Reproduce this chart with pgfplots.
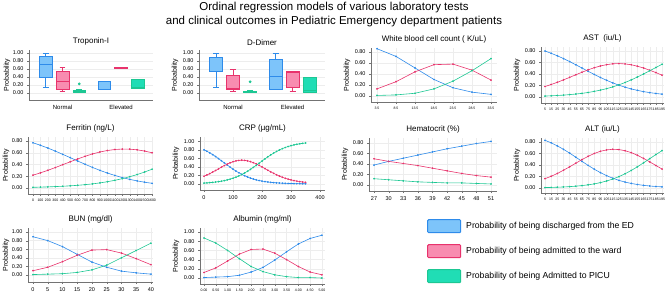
\documentclass[border=0pt]{standalone}
\usepackage{fontspec}
\setmainfont{Liberation Sans}
\usepackage{pgfplots}
\pgfplotsset{compat=1.18}
\usepackage{pgfplotstable}
\usepgfplotslibrary{statistics}
\definecolor{bl}{HTML}{2E8BEA}
\definecolor{blf}{HTML}{7DC4FA}
\definecolor{rd}{HTML}{E8336C}
\definecolor{rdf}{HTML}{F88CB0}
\definecolor{gr}{HTML}{1DC793}
\definecolor{grf}{HTML}{20DDB5}
\pgfplotsset{
 base/.style={scale only axis, anchor=south west, axis x line*=bottom, axis y line*=left,
   tick align=outside, major tick length=2pt, axis line style={black!55}, tick style={black!55},
   grid=major, major grid style={black!7},
   ylabel={Probability}, ylabel style={font=\fontsize{7}{8}\selectfont, at={(axis description cs:0,0.5)}, anchor=center, yshift=24pt},
   title style={font=\fontsize{8}{9}\selectfont, yshift=-5pt},
   tick label style={font=\fontsize{5.5}{6}\selectfont},
   /pgf/number format/assume math mode=true,
   /pgf/number format/1000 sep={},
   yticklabel style={/pgf/number format/.cd, fixed, fixed zerofill, precision=2},
   clip=false},
 leftcol/.style={ylabel style={yshift=-2pt}},
 pl/.style={mark=*, mark size=0.55pt, line width=0.6pt},
 tiny/.style={x tick label style={font=\fontsize{3.5}{4}\selectfont}},
 boxax/.style={base, xmin=0, xmax=7.4, ymin=-0.175, ymax=1.075, xtick={2,5.5},
   xticklabels={Normal,Elevated}, major x tick style={draw=none}, xmajorgrids=false,
   ytick={0,0.2,0.4,0.6,0.8,1}, boxplot/draw direction=y,
   x tick label style={font=\fontsize{6}{7}\selectfont}},
 bx/.style={line width=0.7pt, boxplot/box extend=0.76, boxplot/whisker extend=0.35},
}
\pgfplotstableread{
x b r g
3.5 .86 .13 .01
8.5 .72 .26 .02
13.5 .51 .44 .05
18.5 .30 .57 .13
23.5 .15 .58 .27
28.5 .07 .47 .46
33.5 .03 .29 .68
}\wbc
\pgfplotstableread{
x b r g
5 .800 .183 .017
15 .761 .218 .021
25 .717 .256 .027
35 .669 .298 .033
45 .616 .342 .042
55 .561 .387 .052
65 .505 .431 .064
75 .448 .473 .079
85 .392 .510 .098
95 .340 .540 .120
105 .291 .563 .146
115 .246 .578 .176
125 .206 .582 .212
135 .171 .576 .253
145 .141 .561 .298
155 .116 .536 .348
165 .094 .505 .401
175 .077 .466 .457
185 .062 .425 .513
195 .050 .380 .570
}\ast
\pgfplotstableread{
x b r g
5 .830 .162 .008
15 .786 .204 .010
25 .733 .253 .014
35 .673 .309 .018
45 .607 .369 .024
55 .536 .432 .032
65 .464 .494 .042
75 .394 .551 .055
85 .327 .601 .072
95 .267 .639 .094
105 .215 .663 .122
115 .170 .674 .156
125 .133 .669 .198
135 .103 .649 .248
145 .079 .616 .305
155 .061 .570 .369
165 .046 .515 .439
175 .035 .455 .510
185 .026 .392 .582
195 .020 .330 .650
}\alt
\pgfplotstableread{
x b r g
0 .770 .218 .012
100 .727 .258 .015
200 .680 .301 .019
300 .628 .348 .024
400 .573 .397 .030
500 .517 .446 .037
600 .460 .494 .046
700 .404 .539 .057
800 .350 .580 .070
900 .300 .613 .087
1000 .255 .638 .107
1100 .214 .655 .131
1200 .178 .663 .159
1300 .147 .661 .192
1400 .121 .650 .229
1500 .099 .629 .272
1600 .080 .600 .320
}\fer
\pgfplotstableread{
x b r g
0 .800 .180 .020
10 .766 .210 .024
20 .728 .242 .030
30 .686 .278 .036
40 .641 .315 .044
50 .593 .354 .053
60 .543 .393 .064
70 .493 .430 .077
80 .443 .464 .093
90 .394 .494 .112
100 .347 .520 .133
110 .302 .540 .158
120 .262 .551 .187
130 .224 .556 .220
140 .191 .552 .257
150 .162 .541 .297
160 .136 .523 .341
170 .114 .498 .388
180 .095 .469 .436
190 .079 .435 .487
200 .066 .397 .537
210 .054 .359 .587
220 .045 .320 .635
230 .037 .283 .680
240 .030 .248 .722
250 .025 .214 .761
260 .021 .183 .796
270 .017 .156 .827
280 .014 .132 .854
290 .011 .112 .877
300 .009 .094 .897
310 .008 .078 .915
320 .006 .065 .929
330 .005 .054 .941
340 .004 .045 .952
350 .003 .037 .960
}\crp
\pgfplotstableread{
x b r g
27 .38 .50 .12
30 .45 .45 .10
33 .51 .41 .08
36 .57 .37 .06
39 .63 .32 .05
42 .69 .27 .04
45 .74 .22 .04
48 .79 .18 .03
51 .83 .15 .02
}\hct
\pgfplotstableread{
x b r g
0 .89 .10 .01
5 .80 .18 .02
10 .66 .31 .03
15 .48 .46 .06
20 .30 .58 .12
25 .18 .59 .23
30 .09 .51 .40
35 .05 .38 .57
40 .02 .24 .74
}\bun
\pgfplotstableread{
x b r g
0 .01 .12 .87
0.5 .02 .22 .76
1 .03 .37 .60
1.5 .06 .52 .42
2 .13 .62 .25
2.5 .23 .63 .14
3 .39 .54 .07
3.5 .57 .40 .03
4 .74 .25 .01
4.5 .86 .13 .01
5 .93 .07 .00
}\alb
\begin{document}
\begin{tikzpicture}
\path[use as bounding box] (0,0) rectangle (668pt,-292pt);
\node[font=\fontsize{11.5}{13}\selectfont] at (334pt,-8pt) {Ordinal regression models of various laboratory tests};
\node[font=\fontsize{11.5}{13}\selectfont] at (334pt,-22pt) {and clinical outcomes in Pediatric Emergency department patients};

% Troponin-I
\begin{axis}[boxax, leftcol, at={(29pt,-100pt)}, width=124pt, height=50pt, title={Troponin-I}]
\addplot[bx, draw=bl, fill=blf, boxplot prepared={draw position=1, lower whisker=0.15, lower quartile=0.40, median=0.72, upper quartile=0.92, upper whisker=0.98}] coordinates {};
\addplot[bx, draw=rd, fill=rdf, boxplot prepared={draw position=2, lower whisker=0.03, lower quartile=0.10, median=0.28, upper quartile=0.55, upper whisker=0.65}] coordinates {};
\addplot[bx, draw=gr, fill=grf, mark=*, mark size=1pt, mark options={fill=gr}, boxplot prepared={draw position=3, lower whisker=0.01, lower quartile=0.02, median=0.04, upper quartile=0.07, upper whisker=0.09}] table[row sep=\\, y index=0] {0.23\\};
\addplot[bx, draw=bl, fill=blf, boxplot prepared={draw position=4.5, lower whisker=0.10, lower quartile=0.10, median=0.28, upper quartile=0.29, upper whisker=0.29}] coordinates {};
\addplot[bx, draw=rd, fill=rdf, boxplot prepared={draw position=5.5, lower whisker=0.61, lower quartile=0.61, median=0.62, upper quartile=0.63, upper whisker=0.63}] coordinates {};
\addplot[bx, draw=gr, fill=grf, boxplot prepared={draw position=6.5, lower whisker=0.12, lower quartile=0.12, median=0.13, upper quartile=0.33, upper whisker=0.33}] coordinates {};
\end{axis}

% D-Dimer
\begin{axis}[boxax, at={(199pt,-100pt)}, width=126pt, height=50pt, title={D-Dimer}]
\addplot[bx, draw=bl, fill=blf, boxplot prepared={draw position=1, lower whisker=0.13, lower quartile=0.55, median=0.89, upper quartile=0.90, upper whisker=1.00}] coordinates {};
\addplot[bx, draw=rd, fill=rdf, boxplot prepared={draw position=2, lower whisker=0.03, lower quartile=0.10, median=0.11, upper quartile=0.43, upper whisker=0.60}] coordinates {};
\addplot[bx, draw=gr, fill=grf, mark=*, mark size=1pt, mark options={fill=gr}, boxplot prepared={draw position=3, lower whisker=0.01, lower quartile=0.02, median=0.03, upper quartile=0.05, upper whisker=0.06}] table[row sep=\\, y index=0] {0.28\\};
\addplot[bx, draw=bl, fill=blf, boxplot prepared={draw position=4.5, lower whisker=0.10, lower quartile=0.10, median=0.42, upper quartile=0.85, upper whisker=0.99}] coordinates {};
\addplot[bx, draw=rd, fill=rdf, boxplot prepared={draw position=5.5, lower whisker=0.03, lower quartile=0.15, median=0.52, upper quartile=0.53, upper whisker=0.53}] coordinates {};
\addplot[bx, draw=gr, fill=grf, boxplot prepared={draw position=6.5, lower whisker=0.01, lower quartile=0.02, median=0.07, upper quartile=0.38, upper whisker=0.38}] coordinates {};
\end{axis}

% WBC
\begin{axis}[base, tiny, at={(371pt,-102pt)}, width=126pt, height=54pt, xmin=1.92, xmax=35.08, ymin=-0.109, ymax=0.873,
  xtick={3.5,8.5,13.5,18.5,23.5,28.5,33.5}, ytick={0,0.2,0.4,0.6,0.8}, title={White blood cell count ( K/uL)}]
\addplot[bl,pl] table[x=x,y=b] {\wbc};
\addplot[rd,pl] table[x=x,y=r] {\wbc};
\addplot[gr,pl] table[x=x,y=g] {\wbc};
\end{axis}

% AST
\begin{axis}[base, tiny, at={(541pt,-103pt)}, width=123pt, height=56pt, xmin=-1.5, xmax=198.2, ymin=-0.104, ymax=0.87,
  xtick=data, ytick={0,0.2,0.4,0.6,0.8}, title={AST\ \ (iu/L)}]
\addplot[bl,pl] table[x=x,y=b] {\ast};
\addplot[rd,pl] table[x=x,y=r] {\ast};
\addplot[gr,pl] table[x=x,y=g] {\ast};
\end{axis}

% Ferritin
\begin{axis}[base, tiny, leftcol, at={(28pt,-194pt)}, width=125pt, height=57pt, xmin=-67, xmax=1613, ymin=-0.102, ymax=0.868,
  xtick=data, ytick={0,0.2,0.4,0.6,0.8}, title={Ferritin (ng/L)}]
\addplot[bl,pl] table[x=x,y=b] {\fer};
\addplot[rd,pl] table[x=x,y=r] {\fer};
\addplot[gr,pl] table[x=x,y=g] {\fer};
\end{axis}

% CRP
\begin{axis}[base, at={(200pt,-190pt)}, width=125pt, height=53pt, xmin=-13.8, xmax=417, ymin=-0.143, ymax=1.1,
  xtick={0,100,200,300,400}, ytick={0,0.2,0.4,0.6,0.8,1}, title={CRP (\textmu g/mL)}]
\addplot[bl,pl] table[x=x,y=b] {\crp};
\addplot[rd,pl] table[x=x,y=r] {\crp};
\addplot[gr,pl] table[x=x,y=g] {\crp};
\end{axis}

% Hematocrit
\begin{axis}[base, at={(369pt,-191pt)}, width=128pt, height=53pt, xmin=25.97, xmax=52.23, ymin=-0.114, ymax=0.895,
  xtick=data, ytick={0,0.2,0.4,0.6,0.8}, title={Hematocrit (\%)}]
\addplot[bl,pl] table[x=x,y=b] {\hct};
\addplot[rd,pl] table[x=x,y=r] {\hct};
\addplot[gr,pl] table[x=x,y=g] {\hct};
\end{axis}

% ALT
\begin{axis}[base, tiny, at={(541pt,-193pt)}, width=123pt, height=55pt, xmin=-1.5, xmax=198.2, ymin=-0.087, ymax=0.87,
  xtick=data, ytick={0,0.2,0.4,0.6,0.8}, title={ALT (iu/L)}]
\addplot[bl,pl] table[x=x,y=b] {\alt};
\addplot[rd,pl] table[x=x,y=r] {\alt};
\addplot[gr,pl] table[x=x,y=g] {\alt};
\end{axis}

% BUN
\begin{axis}[base, leftcol, at={(28pt,-282pt)}, width=125pt, height=54pt, xmin=-1.7, xmax=40.7, ymin=-0.163, ymax=1.093,
  xtick=data, ytick={0,0.2,0.4,0.6,0.8,1}, title={BUN (mg/dl)}]
\addplot[bl,pl] table[x=x,y=b] {\bun};
\addplot[rd,pl] table[x=x,y=r] {\bun};
\addplot[gr,pl] table[x=x,y=g] {\bun};
\end{axis}

% Albumin
\begin{axis}[base, tiny, at={(200pt,-284pt)}, width=125pt, height=56pt, xmin=-0.17, xmax=5.13, ymin=-0.13, ymax=1.087,
  xtick=data, ytick={0,0.2,0.4,0.6,0.8,1}, title={Albumin (mg/ml)},
  xticklabel style={/pgf/number format/.cd, fixed, fixed zerofill, precision=2}]
\addplot[bl,pl] table[x=x,y=b] {\alb};
\addplot[rd,pl] table[x=x,y=r] {\alb};
\addplot[gr,pl] table[x=x,y=g] {\alb};
\end{axis}

% Legend
\begin{axis}[hide axis, scale only axis, anchor=north west, at={(427pt,-219pt)}, width=200pt, height=65pt,
  xmin=0, xmax=1, ymin=0, ymax=1,
  legend style={at={(0,1)}, anchor=north west, draw=none, fill=none, inner sep=0pt,
    font=\fontsize{8.7}{9}\selectfont, row sep=11pt},
  legend cell align=left,
  legend image code/.code={\draw[#1, rounded corners=1pt] (0pt,-6.5pt) rectangle (33pt,6.5pt); \path (36pt,0pt);}]
\addlegendimage{draw=bl, fill=blf, line width=1pt}
\addlegendentry{Probability of being discharged from the ED}
\addlegendimage{draw=rd, fill=rdf, line width=1pt}
\addlegendentry{Probability of being admitted to the ward}
\addlegendimage{draw=gr, fill=grf, line width=1pt}
\addlegendentry{Probability of being Admitted to PICU}
\end{axis}
\end{tikzpicture}
\end{document}
